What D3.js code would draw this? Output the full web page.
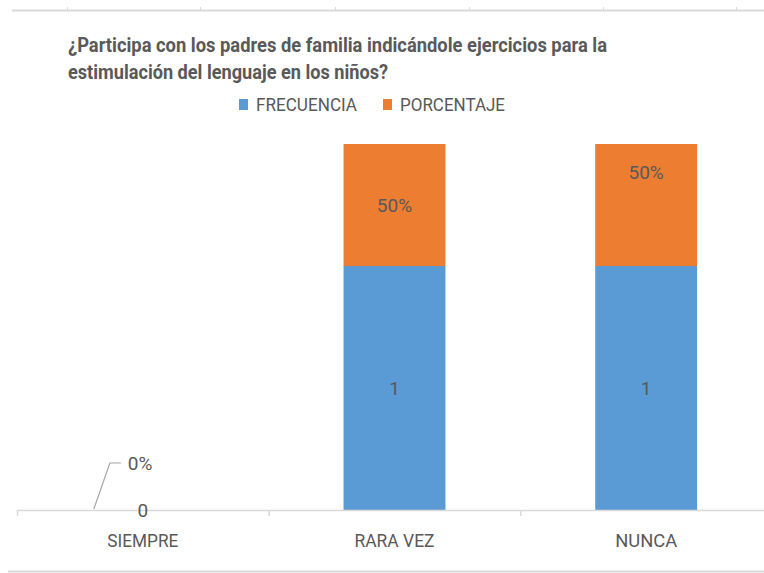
<!DOCTYPE html>
<html><head><meta charset="utf-8">
<script src="https://cdn.jsdelivr.net/npm/d3@7"></script>
<style>
html,body{margin:0;padding:0;background:#fff;}
svg text{font-family:"Roboto","Liberation Sans",sans-serif;fill:#595959;}
</style></head>
<body>
<svg id="chart" width="764" height="573"></svg>
<script>
const titleLines = ["¿Participa con los padres de familia indicándole ejercicios para la", "estimulación del lenguaje en los niños?"];
const categories = ["SIEMPRE", "RARA VEZ", "NUNCA"];
const seriesNames = ["FRECUENCIA", "PORCENTAJE"];
const frecuencia = [0, 1, 1];
const porcentaje = [0, 0.5, 0.5];
const porcentajeLabels = ["0%", "50%", "50%"];
const colors = ["#5b9bd5", "#ed7d31"];

const svg = d3.select("#chart");
const W = 764, H = 573;

function fit(sel, w) {
  sel.each(function() {
    const len = this.getComputedTextLength();
    if (len > 0 && Math.abs(len - w) > 1) {
      d3.select(this).attr("textLength", w).attr("lengthAdjust", "spacingAndGlyphs");
    }
  });
}

// frame lines (top and bottom borders)
svg.append("line").attr("x1", 12).attr("x2", W).attr("y1", 10.5).attr("y2", 10.5)
  .attr("stroke", "#d9d9d9").attr("stroke-width", 2);
[67, 200, 335, 469, 603, 736].forEach(x => {
  svg.append("line").attr("x1", x + 0.5).attr("x2", x + 0.5).attr("y1", 7).attr("y2", 10)
    .attr("stroke", "#d9d9d9");
});
svg.append("line").attr("x1", 8).attr("x2", W).attr("y1", 571.5).attr("y2", 571.5)
  .attr("stroke", "#d9d9d9").attr("stroke-width", 2);

// title
const titleWidths = [539, 320];
titleLines.forEach((t, i) => {
  const tx = svg.append("text").attr("x", 68).attr("y", 52 + i * 27)
    .attr("font-size", 20).attr("font-weight", "bold").text(t);
  fit(tx, titleWidths[i]);
});

// legend
const legendX = [239, 383];
const legendW = [101, 105];
seriesNames.forEach((s, i) => {
  svg.append("rect").attr("x", legendX[i]).attr("y", 99).attr("width", 9).attr("height", 11)
    .attr("fill", colors[i]);
  const t = svg.append("text").attr("x", legendX[i] + 17).attr("y", 111)
    .attr("font-size", 18).text(s);
  fit(t, legendW[i]);
});

// scales
const x = d3.scaleBand().domain(categories).range([17, 772]).paddingInner(0).paddingOuter(0);
const y = d3.scaleLinear().domain([0, 1.5]).range([510, 144]);
const barW = x.bandwidth() * 0.405;

const stackData = categories.map((c, i) => ({cat: c, FRECUENCIA: frecuencia[i], PORCENTAJE: porcentaje[i]}));
const stack = d3.stack().keys(seriesNames)(stackData);

stack.forEach((layer, li) => {
  svg.append("g").selectAll("rect").data(layer).join("rect")
    .attr("x", d => x(d.data.cat) + (x.bandwidth() - barW) / 2)
    .attr("width", barW)
    .attr("y", d => y(d[1]))
    .attr("height", d => y(d[0]) - y(d[1]))
    .attr("fill", colors[li]);
});

// axis
const axis = d3.axisBottom(x).tickSize(0).tickFormat(d => d);
const ag = svg.append("g").attr("transform", "translate(0,510)").call(axis);
ag.select(".domain").attr("stroke", "#d9d9d9").attr("stroke-width", 1.5);
ag.selectAll(".tick text").attr("font-size", 19).attr("fill", "#595959")
  .attr("dy", 0).attr("y", 37)
  .style("font-family", '"Roboto","Liberation Sans",sans-serif');
const catW = {"SIEMPRE": 71, "RARA VEZ": 80, "NUNCA": 62};
ag.selectAll(".tick text").each(function(d) { fit(d3.select(this), catW[d]); });
// category boundary ticks
const bounds = categories.map(c => x(c)).concat([x(categories[categories.length - 1]) + x.bandwidth()]);
ag.selectAll("line.bound").data(bounds).join("line").attr("class", "bound")
  .attr("x1", d => d + 0.5).attr("x2", d => d + 0.5).attr("y1", 0).attr("y2", 6)
  .attr("stroke", "#d9d9d9").attr("stroke-width", 1.5);

// data labels: frequency
categories.forEach((c, i) => {
  const cx = x(c) + x.bandwidth() / 2;
  const cy = y(frecuencia[i] / 2);
  svg.append("text").attr("x", cx).attr("y", cy).attr("dy", "0.35em")
    .attr("text-anchor", "middle").attr("font-size", 19).text(frecuencia[i]);
});

// data labels: percentage
categories.forEach((c, i) => {
  const cx = x(c) + x.bandwidth() / 2;
  if (porcentaje[i] === 0) {
    // zero-height segment: label moved up with a leader line
    const by = y(frecuencia[i] + porcentaje[i]);
    const ly = by - 47;
    svg.append("path")
      .attr("d", `M${cx - 49},${by - 1}L${cx - 33},${ly}L${cx - 22},${ly}`)
      .attr("fill", "none").attr("stroke", "#a6a6a6").attr("stroke-width", 1.2);
    const t = svg.append("text").attr("x", cx - 15).attr("y", ly).attr("dy", "0.35em")
      .attr("font-size", 19).text(porcentajeLabels[i]);
    fit(t, 24);
  } else {
    const mid = y(frecuencia[i] + porcentaje[i] / 2);
    const shift = (c === "NUNCA") ? -33 : 0;
    const t = svg.append("text").attr("x", cx).attr("y", mid + shift).attr("dy", "0.35em")
      .attr("text-anchor", "middle").attr("font-size", 19).text(porcentajeLabels[i]);
    fit(t, 35);
  }
});
</script>
</body></html>
